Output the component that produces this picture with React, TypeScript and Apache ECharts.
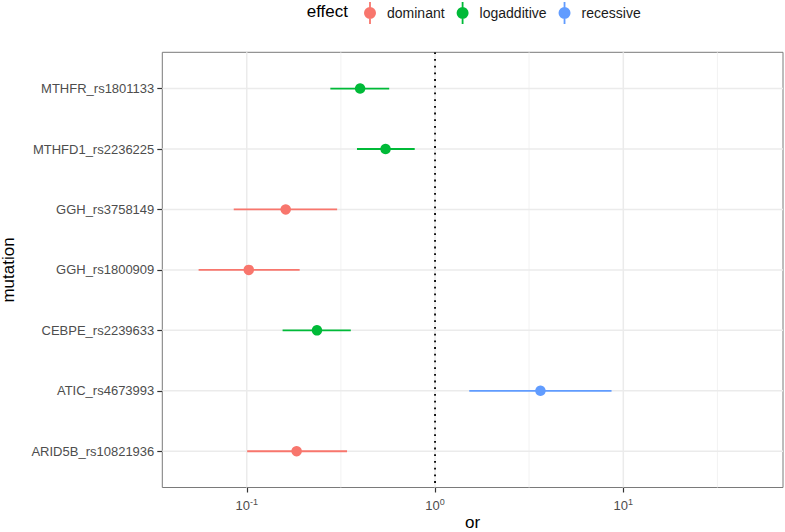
import React, { useEffect, useRef } from 'react';
import * as echarts from 'echarts';

// ---- data ----
const mutations = [
  'ARID5B_rs10821936',
  'ATIC_rs4673993',
  'CEBPE_rs2239633',
  'GGH_rs1800909',
  'GGH_rs3758149',
  'MTHFD1_rs2236225',
  'MTHFR_rs1801133',
];
const effectOfMutation = ['dominant', 'recessive', 'logadditive', 'dominant', 'dominant', 'logadditive', 'logadditive'];
const oddsRatios = [0.184, 3.63, 0.236, 0.1025, 0.161, 0.546, 0.4];
const lowerCI = [0.1005, 1.52, 0.155, 0.0555, 0.0853, 0.385, 0.278];
const upperCI = [0.341, 8.66, 0.357, 0.191, 0.302, 0.78, 0.571];

const effectLevels = ['dominant', 'logadditive', 'recessive'];
const effectColors = ['#F8766D', '#00BA38', '#619CFF'];

const xMajorBreaks = [0.1, 1, 10];
const xMinorBreaks = [0.316, 3.16, 31.6];
const xLimits = [0.0356, 70.5];
const yLimits = [0.4, 7.6];
const yPositions = [1, 2, 3, 4, 5, 6, 7];
const referenceOR = [1];

const FONT = 'Liberation Sans, Arial, Helvetica, sans-serif';

function buildOption(): any {
  const rows = mutations.map((m, i) => ({
    name: m,
    effect: effectOfMutation[i],
    or: oddsRatios[i],
    lo: lowerCI[i],
    hi: upperCI[i],
    y: yPositions[i],
  }));

  const vLine = (stroke: string, width: number, dash?: number[]) => (params: any, api: any) => {
    const cs = params.coordSys;
    const x = api.coord([api.value(0), yPositions[0]])[0];
    return {
      type: 'line',
      shape: { x1: x, y1: cs.y, x2: x, y2: cs.y + cs.height },
      style: { stroke, lineWidth: width, lineDash: dash, fill: null },
    };
  };

  const series: any[] = [];

  // points (first, so legend takes them)
  effectLevels.forEach((eff, k) => {
    series.push({
      type: 'scatter',
      name: eff,
      z: 4,
      symbol: 'circle',
      symbolSize: 10.5,
      itemStyle: { color: effectColors[k], opacity: 1 },
      emphasis: { disabled: true },
      data: rows.filter((r) => r.effect === eff).map((r) => [r.or, r.y]),
    });
  });

  // error bars
  effectLevels.forEach((eff, k) => {
    series.push({
      type: 'custom',
      name: eff,
      z: 3,
      itemStyle: { color: effectColors[k] },
      encode: { x: [0, 1], y: 2 },
      data: rows.filter((r) => r.effect === eff).map((r) => [r.lo, r.hi, r.y]),
      renderItem: (params: any, api: any) => {
        const y = api.value(2);
        const p1 = api.coord([api.value(0), y]);
        const p2 = api.coord([api.value(1), y]);
        return {
          type: 'line',
          shape: { x1: p1[0], y1: p1[1], x2: p2[0], y2: p2[1] },
          style: { stroke: effectColors[k], lineWidth: 1.8 },
        };
      },
    });
  });

  // grid lines
  series.push({
    type: 'custom',
    name: '_xminor',
    z: 1,
    silent: true,
    encode: { x: 0 },
    data: xMinorBreaks.map((v) => [v]),
    renderItem: vLine('#F0F0F0', 0.9),
  });
  series.push({
    type: 'custom',
    name: '_xmajor',
    z: 1,
    silent: true,
    encode: { x: 0 },
    data: xMajorBreaks.map((v) => [v]),
    renderItem: vLine('#EBEBEB', 1.5),
  });
  series.push({
    type: 'custom',
    name: '_ymajor',
    z: 1,
    silent: true,
    encode: { y: 0 },
    data: yPositions.map((v) => [v]),
    renderItem: (params: any, api: any) => {
      const cs = params.coordSys;
      const y = api.coord([xMajorBreaks[1], api.value(0)])[1];
      return {
        type: 'line',
        shape: { x1: cs.x, y1: y, x2: cs.x + cs.width, y2: y },
        style: { stroke: '#EBEBEB', lineWidth: 1.5 },
      };
    },
  });
  // reference line
  series.push({
    type: 'custom',
    name: '_ref',
    z: 2,
    silent: true,
    encode: { x: 0 },
    data: referenceOR.map((v) => [v]),
    renderItem: vLine('#000000', 1.8, [1.8, 4.9]),
  });

  return {
    animation: false,
    backgroundColor: '#ffffff',
    textStyle: { fontFamily: FONT },
    grid: {
      left: 162.3,
      right: 2,
      top: 52.3,
      bottom: 44.5,
      show: true,
      borderColor: '#7a7a7a',
      borderWidth: 1,
      backgroundColor: 'transparent',
      containLabel: false,
      outerBoundsMode: 'none',
    },
    legend: {
      data: effectLevels,
      left: 364,
      top: 2,
      padding: 0,
      itemWidth: 12,
      itemHeight: 22,
      itemGap: 12,
      selectedMode: false,
      icon: 'path://M5.1,0 L6.9,0 L6.9,22 L5.1,22 Z M12,11 A6,6 0 1 1 0,11 A6,6 0 1 1 12,11 Z',
      textStyle: { fontSize: 14, color: '#1a1a1a', fontFamily: FONT, padding: [0, 0, 0, 6] },
    },
    xAxis: {
      type: 'log',
      logBase: 10,
      min: xLimits[0],
      max: xLimits[1],
      axisLine: { show: false },
      axisTick: {
        show: true,
        customValues: xMajorBreaks,
        length: 5,
        lineStyle: { color: '#333333', width: 1.2 },
      },
      axisLabel: {
        customValues: xMajorBreaks,
        margin: 10,
        formatter: (v: number) => `{b|10}{s|${Math.round(Math.log10(v))}}`,
        rich: {
          b: { fontSize: 13, color: '#4D4D4D', fontFamily: FONT, lineHeight: 15 },
          s: { fontSize: 9, color: '#4D4D4D', fontFamily: FONT, lineHeight: 9, verticalAlign: 'top' },
        },
      },
      splitLine: { show: false },
      minorSplitLine: { show: false },
    },
    yAxis: {
      type: 'value',
      min: yLimits[0],
      max: yLimits[1],
      axisLine: { show: false },
      axisTick: {
        show: true,
        customValues: yPositions,
        length: 5,
        lineStyle: { color: '#333333', width: 1.2 },
      },
      axisLabel: {
        customValues: yPositions,
        margin: 8,
        fontSize: 13,
        color: '#4D4D4D',
        fontFamily: FONT,
        formatter: (v: number) => mutations[yPositions.indexOf(Math.round(v))] ?? '',
      },
      splitLine: { show: false },
    },
    graphic: [
      {
        type: 'text',
        left: 306.7,
        top: 3,
        style: { text: 'effect', fontSize: 17, fontFamily: FONT, fill: '#000000' },
      },
      {
        type: 'text',
        x: 472.6,
        y: 522,
        style: {
          text: 'or',
          fontSize: 17,
          fontFamily: FONT,
          fill: '#000000',
          align: 'center',
          verticalAlign: 'middle',
          textAlign: 'center',
          textVerticalAlign: 'middle',
        },
      },
      {
        type: 'text',
        x: 8,
        y: 270,
        rotation: Math.PI / 2,
        style: {
          text: 'mutation',
          fontSize: 17,
          fontFamily: FONT,
          fill: '#000000',
          align: 'center',
          verticalAlign: 'middle',
          textAlign: 'center',
          textVerticalAlign: 'middle',
        },
      },
    ],
    series,
  };
}

export default function App() {
  const ref = useRef<HTMLDivElement | null>(null);
  useEffect(() => {
    if (!ref.current) return;
    const chart = echarts.init(ref.current, undefined, { renderer: 'svg' });
    chart.setOption(buildOption());
    return () => chart.dispose();
  }, []);
  return (
    <div
      ref={ref}
      style={{ position: 'fixed', left: 0, top: 0, width: 785, height: 532, background: '#ffffff' }}
    />
  );
}
